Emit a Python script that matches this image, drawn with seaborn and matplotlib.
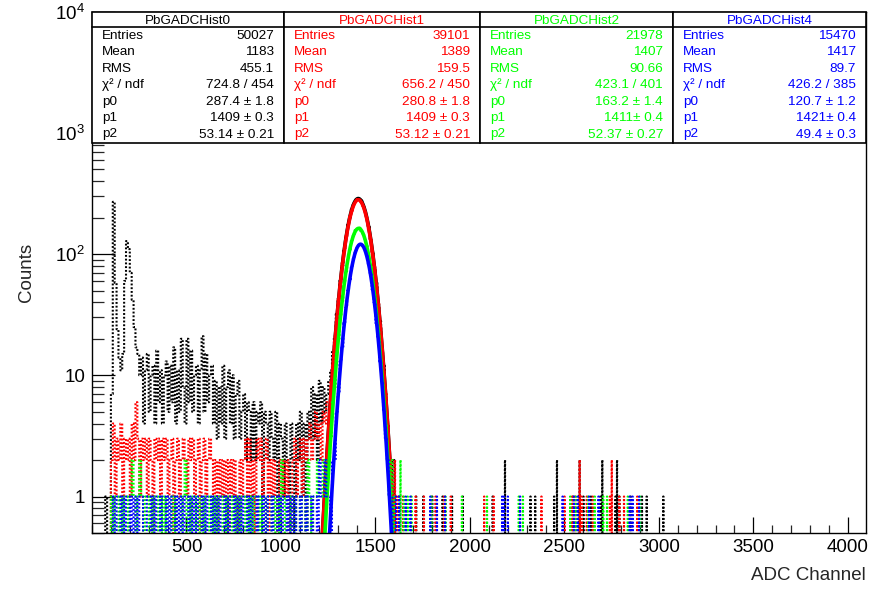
import numpy as np
import matplotlib
matplotlib.use("Agg")
import matplotlib.pyplot as plt
from matplotlib.patches import Rectangle
from matplotlib.lines import Line2D
from matplotlib.ticker import FixedLocator, FixedFormatter, LogLocator, NullFormatter, MultipleLocator
import seaborn as sns

# ---------------- data ----------------
hist_names = ["PbGADCHist0", "PbGADCHist1", "PbGADCHist2", "PbGADCHist4"]
hist_colors = ["#000000", "#ff0000", "#00ff00", "#0000ff"]

# counts per channel, read in 10-channel steps from ADC 60 to 1600
main_start, main_step = 60, 10
counts_hist0 = [
    0, 1, 0, 0, 7, 270, 58, 24, 14, 11,
    15, 60, 128, 110, 70, 42, 25, 17, 15, 10,
    14, 4, 11, 15, 5, 10, 12, 4, 16, 6,
    11, 4, 10, 13, 5, 12, 6, 17, 4, 11,
    5, 20, 8, 4, 20, 6, 16, 5, 10, 12,
    4, 11, 21, 5, 15, 6, 10, 12, 4, 9,
    3, 8, 4, 12, 3, 8, 11, 4, 10, 3,
    7, 9, 3, 5, 7, 2, 6, 5, 2, 6,
    2, 5, 4, 6, 1, 5, 4, 2, 5, 3,
    2, 5, 1, 4, 3, 1, 4, 2, 0, 4,
    2, 0, 4, 2, 5, 1, 4, 0, 5, 3,
    8, 3, 7, 2, 9, 4, 8, 5, 7, 9,
    11, 16, 21, 32, 43, 62, 80, 111, 137, 174,
    201, 238, 256, 281, 290, 283, 277, 252, 231, 195,
    168, 130, 106, 75, 58, 38, 28, 16, 12, 6,
    4, 2, 1, 2,
]
counts_hist1 = [
    0, 0, 0, 0, 2, 4, 1, 3, 2, 4,
    1, 3, 2, 3, 1, 4, 2, 6, 3, 1,
    3, 2, 3, 1, 3, 2, 0, 3, 2, 3,
    1, 3, 2, 3, 1, 2, 3, 0, 2, 3,
    1, 2, 3, 2, 1, 3, 2, 3, 1, 2,
    3, 0, 2, 3, 1, 2, 3, 2, 1, 2,
    0, 2, 1, 2, 1, 2, 0, 2, 1, 2,
    1, 0, 2, 1, 2, 3, 1, 3, 1, 2,
    0, 3, 2, 3, 1, 2, 3, 0, 2, 1,
    2, 1, 0, 2, 1, 2, 1, 2, 1, 0,
    2, 3, 1, 2, 3, 1, 3, 2, 3, 4,
    2, 3, 5, 3, 4, 2, 5, 4, 6, 6,
    9, 12, 19, 28, 42, 58, 84, 106, 140, 166,
    203, 228, 258, 270, 284, 281, 268, 251, 221, 196,
    160, 132, 99, 78, 53, 40, 25, 17, 10, 7,
    4, 2, 2, 1,
]
counts_hist2 = [
    0, 0, 0, 0, 1, 0, 1, 1, 0, 1,
    0, 1, 1, 0, 1, 2, 1, 0, 1, 2,
    1, 0, 1, 1, 0, 1, 0, 1, 1, 0,
    1, 0, 1, 0, 1, 1, 0, 1, 0, 1,
    1, 0, 1, 2, 0, 1, 0, 1, 1, 0,
    1, 0, 1, 0, 1, 1, 0, 1, 0, 1,
    0, 1, 1, 0, 1, 0, 1, 1, 0, 1,
    0, 1, 0, 1, 1, 0, 1, 0, 1, 0,
    1, 1, 0, 1, 0, 1, 0, 1, 1, 0,
    1, 0, 1, 0, 2, 1, 0, 1, 1, 0,
    1, 0, 1, 1, 0, 1, 1, 0, 2, 1,
    0, 1, 1, 2, 1, 1, 2, 1, 2, 2,
    3, 6, 8, 15, 20, 31, 41, 58, 72, 94,
    109, 131, 142, 158, 161, 165, 155, 148, 130, 116,
    94, 78, 59, 46, 31, 23, 15, 10, 6, 4,
    2, 1, 2, 0,
]
counts_hist4 = [
    0, 0, 0, 0, 0, 1, 0, 1, 1, 0,
    1, 0, 1, 1, 0, 1, 0, 1, 0, 1,
    1, 0, 0, 1, 1, 0, 1, 0, 1, 1,
    0, 1, 1, 0, 1, 0, 1, 1, 0, 1,
    0, 1, 0, 1, 1, 0, 1, 0, 1, 0,
    1, 1, 0, 1, 0, 1, 1, 0, 1, 0,
    1, 0, 1, 1, 0, 1, 0, 1, 1, 0,
    1, 0, 1, 0, 1, 1, 0, 1, 0, 1,
    1, 0, 1, 1, 0, 1, 0, 1, 1, 0,
    1, 1, 0, 1, 0, 1, 1, 0, 1, 0,
    1, 0, 1, 1, 0, 1, 1, 0, 1, 1,
    0, 1, 1, 0, 2, 1, 1, 2, 1, 1,
    0, 2, 2, 5, 7, 13, 17, 27, 36, 50,
    62, 80, 91, 107, 113, 121, 119, 117, 106, 96,
    80, 68, 51, 40, 27, 20, 13, 9, 5, 3,
    2, 1, 1, 0,
]

# single-channel hits in the sparse tail (ADC 1600 - 3100)
tail_hits_hist0 = [1622, 1715, 1753, 1800, 1855, 1905, 1962, 2120, 2185, 2185,
                   2320, 2345, 2445, 2460, 2460, 2545, 2575, 2580, 2580, 2600,
                   2640, 2690, 2700, 2700, 2770, 2778, 2778, 2790, 2850, 2910,
                   2935, 3023]
tail_hits_hist1 = [1603, 1603, 1612, 1645, 1712, 1756, 1818, 1862, 1898, 2075,
                   2125, 2378, 2500, 2540, 2556, 2580, 2580, 2590, 2618, 2650,
                   2740, 2750, 2750, 2790, 2815, 2885]
tail_hits_hist2 = [1600, 1632, 1632, 1650, 1670, 1690, 1795, 1870, 1957, 2090,
                   2258, 2280, 2530, 2560, 2625, 2660, 2705, 2725, 2835, 2900]
tail_hits_hist4 = [1608, 1625, 1660, 1685, 1790, 1825, 1868, 2170, 2180, 2200,
                   2265, 2490, 2550, 2570, 2630, 2680, 2845, 2860, 2895]

fit_p0 = [287.4, 280.8, 163.2, 120.7]
fit_p1 = [1409, 1409, 1411, 1421]
fit_p2 = [53.14, 53.12, 52.37, 49.4]

stat_labels = ["Entries", "Mean", "RMS", "\u03c7\u00b2 / ndf", "p0", "p1", "p2"]
stat_values = [
    ["50027", "1183", "455.1", "724.8 / 454", "287.4 \u00b1 1.8", "1409 \u00b1 0.3", "53.14 \u00b1 0.21"],
    ["39101", "1389", "159.5", "656.2 / 450", "280.8 \u00b1 1.8", "1409 \u00b1 0.3", "53.12 \u00b1 0.21"],
    ["21978", "1407", "90.66", "423.1 / 401", "163.2 \u00b1 1.4", "1411\u00b1 0.4", "52.37 \u00b1 0.27"],
    ["15470", "1417", "89.7", "426.2 / 385", "120.7 \u00b1 1.2", "1421\u00b1 0.4", "49.4 \u00b1 0.3"],
]

x_ticks = [500, 1000, 1500, 2000, 2500, 3000, 3500, 4000]
x_tick_labels = ["500", "1000", "1500", "2000", "2500", "3000", "3500", "4000"]
y_ticks = [1, 10, 100, 1000, 10000]
y_tick_labels = ["1", "10", "$10^{2}$", "$10^{3}$", "$10^{4}$"]
x_label = "ADC Channel"
y_label = "Counts"

# ---------------- style ----------------
sns.set_style("white")
plt.rcParams["font.family"] = ["Liberation Sans", "DejaVu Sans"]
plt.rcParams["mathtext.fontset"] = "custom"
plt.rcParams["mathtext.rm"] = "Liberation Sans"
plt.rcParams["mathtext.it"] = "Liberation Sans:italic"
plt.rcParams["mathtext.bf"] = "Liberation Sans:bold"
plt.rcParams["mathtext.default"] = "regular"

W, H = 870, 590
fig = plt.figure(figsize=(W / 100, H / 100), dpi=100)
fig.patch.set_facecolor("white")

AX_L, AX_R, AX_T, AX_B = 92, 866, 11.7, 533
ax = fig.add_axes([AX_L / W, 1 - AX_B / H, (AX_R - AX_L) / W, (AX_B - AX_T) / H])
ax.set_facecolor("white")
ax.set_yscale("log")

n_main = len(counts_hist0)
edges = np.concatenate([main_start + main_step * np.arange(n_main),
                        np.arange(main_start + main_step * n_main, 3101, 1)]).astype(float)
bin_edges = edges.tolist()
centers_main = main_start + main_step * np.arange(n_main) + main_step / 2.0

all_counts = [counts_hist0, counts_hist1, counts_hist2, counts_hist4]
all_tails = [tail_hits_hist0, tail_hits_hist1, tail_hits_hist2, tail_hits_hist4]

xfit = np.linspace(1100, 1750, 700)
for i in range(4):
    xs = np.concatenate([centers_main, np.asarray(all_tails[i], float) + 0.5])
    ws = np.concatenate([np.asarray(all_counts[i], float), np.ones(len(all_tails[i]))])
    sns.histplot(x=xs, weights=ws, bins=bin_edges, element="step", fill=False,
                 color=hist_colors[i], linewidth=1.5, linestyle=(0, (0.9, 0.9)), ax=ax)
    yfit = fit_p0[i] * np.exp(-0.5 * ((xfit - fit_p1[i]) / fit_p2[i]) ** 2)
    sns.lineplot(x=xfit, y=yfit, color=hist_colors[i], linewidth=2.6, ax=ax)

ax.set_yscale("log")
ax.set_xlim(0, 4096)
ax.set_ylim(0.5, 1e4)

ax.xaxis.set_major_locator(FixedLocator(x_ticks))
ax.xaxis.set_major_formatter(FixedFormatter(x_tick_labels))
ax.xaxis.set_minor_locator(MultipleLocator(100))
ax.yaxis.set_major_locator(FixedLocator(y_ticks))
ax.yaxis.set_major_formatter(FixedFormatter(y_tick_labels))
ax.yaxis.set_minor_locator(LogLocator(base=10, subs=np.arange(2, 10), numticks=30))
ax.yaxis.set_minor_formatter(NullFormatter())

ax.tick_params(axis="x", which="major", direction="in", length=11.2, width=0.9,
               top=False, bottom=True, labelsize=13.5, pad=4, colors="black")
ax.tick_params(axis="x", which="minor", direction="in", length=5.6, width=0.9,
               top=False, bottom=True)
ax.tick_params(axis="y", which="major", direction="in", length=16.5, width=0.9,
               left=True, right=False, labelsize=13.5, pad=5, colors="black")
ax.tick_params(axis="y", which="minor", direction="in", length=8.3, width=0.9,
               left=True, right=False)
for s in ax.spines.values():
    s.set_visible(True)
    s.set_color("black")
    s.set_linewidth(1.0)

ax.set_xlabel(x_label, fontsize=13.5, loc="right")
ax.xaxis.set_label_coords(1.0, (AX_B - 575) / (AX_B - AX_T))
ax.xaxis.label.set_va("center")
ax.set_ylabel(y_label, fontsize=13.5)
ax.yaxis.set_label_coords((27 - AX_L) / (AX_R - AX_L), 0.5)
ax.yaxis.label.set_va("center")


# ---------------- stat boxes ----------------
def fx(px):
    return px / W


def fy(py):
    return 1 - py / H


box_edges = [92, 284, 480, 673, 866]
BOX_T, BOX_SEP, BOX_B = 11.7, 27.3, 142.7
STAT_FS = 9.7
for i in range(4):
    l, r = box_edges[i], box_edges[i + 1]
    rect = Rectangle((fx(l), fy(BOX_B)), fx(r) - fx(l), fy(BOX_T) - fy(BOX_B),
                     transform=fig.transFigure, facecolor="white", edgecolor="black",
                     linewidth=1.2, zorder=5)
    fig.add_artist(rect)
    sep = Line2D([fx(l), fx(r)], [fy(BOX_SEP), fy(BOX_SEP)], transform=fig.transFigure,
                 color="black", linewidth=1.2, zorder=6)
    fig.add_artist(sep)
    fig.text(fx((l + r) / 2), fy(24.0), hist_names[i], color=hist_colors[i],
             ha="center", va="baseline", fontsize=STAT_FS, zorder=7)
    for j, (lab, val) in enumerate(zip(stat_labels, stat_values[i])):
        yb = 38.8 + 16.45 * j
        fig.text(fx(l + 10), fy(yb), lab, color=hist_colors[i], ha="left",
                 va="baseline", fontsize=STAT_FS, zorder=7)
        fig.text(fx(r - 10), fy(yb), val, color=hist_colors[i], ha="right",
                 va="baseline", fontsize=STAT_FS, zorder=7)

fig.savefig("out.png", dpi=100, facecolor="white")
